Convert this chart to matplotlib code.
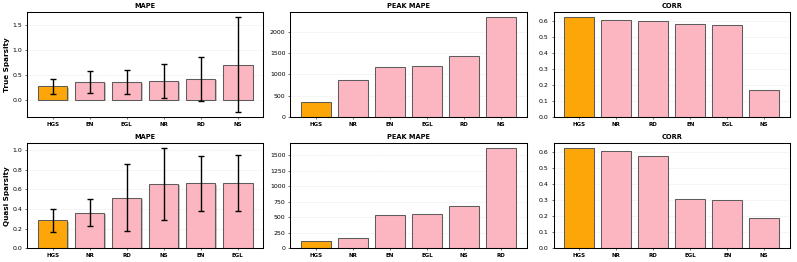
import matplotlib
matplotlib.use("Agg")
import matplotlib.pyplot as plt
import matplotlib.patheffects as pe
import numpy as np

# row 1: true sparsity
true_mape_labels = ['HGS', 'EN', 'EGL', 'NR', 'RD', 'NS']
true_mape = [0.27, 0.355, 0.36, 0.375, 0.425, 0.71]
true_mape_err = [0.15, 0.215, 0.245, 0.34, 0.445, 0.965]
true_peak_labels = ['HGS', 'NR', 'EN', 'EGL', 'RD', 'NS']
true_peak = [350, 855, 1165, 1185, 1425, 2340]
true_corr_labels = ['HGS', 'NR', 'RD', 'EN', 'EGL', 'NS']
true_corr = [0.625, 0.605, 0.598, 0.58, 0.575, 0.17]

# row 2: quasi sparsity
quasi_mape_labels = ['HGS', 'NR', 'RD', 'NS', 'EN', 'EGL']
quasi_mape = [0.285, 0.362, 0.515, 0.655, 0.66, 0.665]
quasi_mape_err = [0.118, 0.138, 0.34, 0.365, 0.28, 0.285]
quasi_peak_labels = ['HGS', 'NR', 'EN', 'EGL', 'NS', 'RD']
quasi_peak = [115, 165, 540, 555, 675, 1615]
quasi_corr_labels = ['HGS', 'NR', 'RD', 'EGL', 'EN', 'NS']
quasi_corr = [0.625, 0.605, 0.578, 0.305, 0.298, 0.19]

rows = [
    ('True Sparsity', [(true_mape_labels, true_mape, true_mape_err, 'MAPE'),
                       (true_peak_labels, true_peak, None, 'PEAK MAPE'),
                       (true_corr_labels, true_corr, None, 'CORR')]),
    ('Quasi Sparsity', [(quasi_mape_labels, quasi_mape, quasi_mape_err, 'MAPE'),
                        (quasi_peak_labels, quasi_peak, None, 'PEAK MAPE'),
                        (quasi_corr_labels, quasi_corr, None, 'CORR')]),
]

fig, axes = plt.subplots(2, 3, figsize=(15.94, 5.24), dpi=50)

for r, (ylabel, panels) in enumerate(rows):
    for c, (labels, vals, err, title) in enumerate(panels):
        ax = axes[r, c]
        colors = ['orange' if l == 'HGS' else 'lightpink' for l in labels]
        x = np.arange(len(labels))
        bars = ax.bar(x, vals, color=colors, edgecolor='#555555', linewidth=1.5,
                      width=0.8, alpha=0.95)
        for b in bars:
            b.set_path_effects([pe.SimplePatchShadow(offset=(2, -2), alpha=0.3), pe.Normal()])
        if err is not None:
            ax.errorbar(x, vals, yerr=err, fmt='none', ecolor='black',
                        elinewidth=2, capsize=4, capthick=2)
        ax.set_xticks(x)
        ax.set_xticklabels(labels, fontweight='bold', fontsize=8)
        ax.tick_params(axis='y', labelsize=9)
        ax.set_title(title, fontweight='bold', fontsize=9.5)
        ax.grid(axis='y', linestyle='--', alpha=0.3)
        ax.set_axisbelow(True)
        for s in ax.spines.values():
            s.set_linewidth(1.5)
        if c == 0:
            ax.set_ylabel(ylabel, fontweight='bold', fontsize=10.5, labelpad=3)

fig.subplots_adjust(left=0.034, right=0.991, top=0.954, bottom=0.053,
                    wspace=0.115, hspace=0.25)
fig.savefig('out.png', dpi=50)
